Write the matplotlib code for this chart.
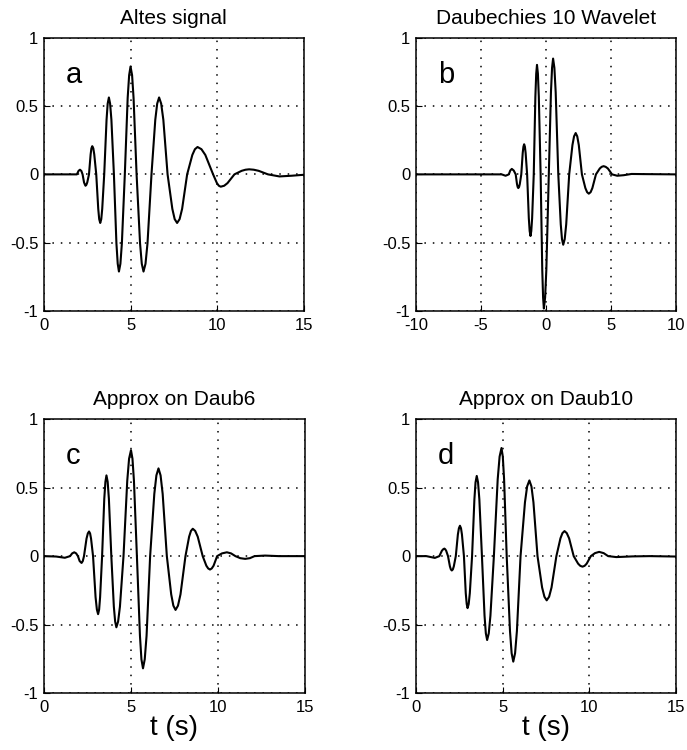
import matplotlib
matplotlib.use("Agg")
import matplotlib.pyplot as plt

plt.rcParams['font.family'] = ['Liberation Sans', 'DejaVu Sans']
plt.rcParams['axes.unicode_minus'] = False

# values (time in s, amplitude)
a_t = [0, 1.6, 1.9, 2.0, 2.08, 2.16, 2.23,
       2.315, 2.37, 2.40, 2.45, 2.50, 2.60,
       2.695, 2.74, 2.79, 2.85, 2.905, 3.02,
       3.135, 3.19, 3.25, 3.31, 3.365, 3.48,
       3.615, 3.68, 3.75, 3.82, 3.895, 4.04,
       4.185, 4.26, 4.33, 4.415, 4.50, 4.67,
       4.835, 4.92, 5.00, 5.09, 5.175, 5.35,
       5.55, 5.65, 5.75, 5.865, 5.98, 6.21,
       6.43, 6.54, 6.65, 6.77, 6.895, 7.14,
       7.415, 7.55, 7.69, 7.835, 7.98, 8.27,
       8.57, 8.72, 8.87, 9.095, 9.32, 9.77,
       9.99, 10.10, 10.21, 10.41, 10.6, 11.0,
       11.42, 11.64, 11.85, 12.12, 12.4, 12.94,
       13.6, 14.3, 15.0]
a_y = [0, 0, 0, 0.026, 0.034, 0.025, 0,
       -0.059, -0.076, -0.083, -0.076, -0.059, 0,
       0.146, 0.19, 0.206, 0.19, 0.146, 0,
       -0.252, -0.327, -0.355, -0.327, -0.252, 0,
       0.399, 0.517, 0.562, 0.517, 0.399, 0,
       -0.504, -0.653, -0.71, -0.653, -0.504, 0,
       0.559, 0.725, 0.788, 0.725, 0.559, 0,
       -0.504, -0.653, -0.71, -0.653, -0.504, 0,
       0.399, 0.517, 0.562, 0.517, 0.399, 0,
       -0.252, -0.327, -0.355, -0.327, -0.252, 0,
       0.142, 0.184, 0.20, 0.184, 0.142, 0,
       -0.064, -0.083, -0.09, -0.083, -0.064, 0,
       0.026, 0.034, 0.037, 0.034, 0.026, 0,
       -0.015, -0.01, -0.003]

b_t = [-10, -3.4, -3.1, -2.85,
       -2.74, -2.62, -2.47, -2.32,
       -2.22, -2.17, -2.12, -2.06, -2.005, -1.89,
       -1.78, -1.725, -1.67, -1.61, -1.555, -1.44,
       -1.31, -1.245, -1.18, -1.12, -1.055, -0.93,
       -0.805, -0.74, -0.68, -0.61, -0.54, -0.40,
       -0.275, -0.21, -0.15, -0.055, 0.04, 0.23,
       0.395, 0.48, 0.56, 0.66, 0.76, 0.96,
       1.15, 1.245, 1.34, 1.455, 1.57, 1.80,
       2.05, 2.175, 2.30, 2.42, 2.54, 2.78,
       3.045, 3.18, 3.31, 3.45, 3.585, 3.86,
       4.155, 4.30, 4.45, 4.61, 4.78, 5.1,
       5.5, 6.0, 6.6, 7.5, 10]
b_y = [0, 0, -0.01, 0,
       0.028, 0.04, 0.028, 0,
       -0.071, -0.092, -0.10, -0.092, -0.071, 0,
       0.156, 0.202, 0.22, 0.202, 0.156, 0,
       -0.32, -0.414, -0.45, -0.414, -0.32, 0,
       0.568, 0.736, 0.80, 0.736, 0.568, 0,
       -0.696, -0.90, -0.98, -0.90, -0.696, 0,
       0.60, 0.778, 0.846, 0.778, 0.60, 0,
       -0.365, -0.473, -0.514, -0.473, -0.365, 0,
       0.214, 0.278, 0.302, 0.278, 0.214, 0,
       -0.10, -0.13, -0.141, -0.13, -0.10, 0,
       0.043, 0.055, 0.06, 0.055, 0.043, 0,
       -0.01, -0.006, 0.003, 0.002, 0]

c_t = [0, 0.7, 1.2, 1.5,
       1.62, 1.74, 1.85, 1.95,
       2.05, 2.16, 2.23, 2.30,
       2.445, 2.52, 2.59, 2.65, 2.705, 2.82,
       2.965, 3.04, 3.11, 3.17, 3.225, 3.34,
       3.465, 3.53, 3.59, 3.66, 3.73, 3.87,
       4.015, 4.09, 4.16, 4.26, 4.365, 4.57,
       4.785, 4.89, 5.0, 5.085, 5.17, 5.34,
       5.515, 5.60, 5.69, 5.79, 5.895, 6.10,
       6.34, 6.46, 6.58, 6.70, 6.82, 7.06,
       7.31, 7.435, 7.56, 7.70, 7.845, 8.13,
       8.34, 8.445, 8.55, 8.69, 8.835, 9.12,
       9.33, 9.435, 9.54, 9.64, 9.745, 9.95,
       10.23, 10.51, 10.75, 11.0,
       11.28, 11.56, 11.83, 12.1,
       12.7, 13.5, 15]
c_y = [0, -0.003, -0.012, 0,
       0.02, 0.028, 0.02, 0,
       -0.036, -0.05, -0.036, 0,
       0.128, 0.166, 0.18, 0.166, 0.128, 0,
       -0.30, -0.39, -0.424, -0.39, -0.30, 0,
       0.419, 0.543, 0.59, 0.543, 0.419, 0,
       -0.369, -0.478, -0.52, -0.478, -0.369, 0,
       0.55, 0.712, 0.774, 0.712, 0.55, 0,
       -0.582, -0.754, -0.82, -0.754, -0.582, 0,
       0.455, 0.59, 0.641, 0.59, 0.455, 0,
       -0.279, -0.362, -0.393, -0.362, -0.279, 0,
       0.142, 0.184, 0.20, 0.184, 0.142, 0,
       -0.07, -0.09, -0.098, -0.09, -0.07, 0,
       0.02, 0.028, 0.02, 0,
       -0.015, -0.02, -0.015, 0,
       0.004, 0, 0]

d_t = [0, 0.6, 1.09, 1.35,
       1.495, 1.57, 1.64, 1.69, 1.745, 1.85,
       1.96, 2.015, 2.07, 2.13, 2.185, 2.30,
       2.42, 2.48, 2.54, 2.60, 2.655, 2.77,
       2.875, 2.93, 2.98, 3.045, 3.11, 3.24,
       3.375, 3.44, 3.51, 3.585, 3.66, 3.81,
       3.96, 4.035, 4.11, 4.205, 4.30, 4.50,
       4.72, 4.83, 4.94, 5.015, 5.09, 5.24,
       5.43, 5.525, 5.62, 5.725, 5.83, 6.04,
       6.295, 6.42, 6.55, 6.67, 6.785, 7.02,
       7.285, 7.42, 7.55, 7.69, 7.83, 8.11,
       8.345, 8.46, 8.58, 8.71, 8.845, 9.11,
       9.365, 9.49, 9.62, 9.74, 9.86, 10.1,
       10.34, 10.58, 10.84, 11.1,
       11.57, 12.5, 13.5, 15]
d_y = [0, 0, -0.013, 0,
       0.039, 0.05, 0.055, 0.05, 0.039, 0,
       -0.075, -0.097, -0.105, -0.097, -0.075, 0,
       0.158, 0.204, 0.222, 0.204, 0.158, 0,
       -0.27, -0.35, -0.38, -0.35, -0.27, 0,
       0.416, 0.539, 0.586, 0.539, 0.416, 0,
       -0.435, -0.564, -0.613, -0.564, -0.435, 0,
       0.561, 0.727, 0.79, 0.727, 0.561, 0,
       -0.547, -0.709, -0.771, -0.709, -0.547, 0,
       0.393, 0.509, 0.553, 0.509, 0.393, 0,
       -0.229, -0.297, -0.323, -0.297, -0.229, 0,
       0.13, 0.168, 0.183, 0.168, 0.13, 0,
       -0.055, -0.071, -0.077, -0.071, -0.055, 0,
       0.022, 0.031, 0.022, 0,
       -0.007, -0.002, 0, -0.003]

titles = ["Altes signal", "Daubechies 10 Wavelet", "Approx on Daub6", "Approx on Daub10"]
letters = ["a", "b", "c", "d"]
t_ticks = [0, 5, 10, 15]
wav_ticks = [-10, -5, 0, 5, 10]
y_ticks = [-1, -0.5, 0, 0.5, 1]
y_labels = ["-1", "-0.5", "0", "0.5", "1"]


def panel(fig, rect, t, y, title, letter, xticks, xlabel=None):
    ax = fig.add_axes(rect)
    ax.plot(t, y, color="black", lw=1.5)
    ax.set_xlim(xticks[0], xticks[-1])
    ax.set_ylim(-1, 1)
    ax.set_xticks(xticks)
    ax.set_xticklabels([str(v) for v in xticks])
    ax.set_yticks(y_ticks)
    ax.set_yticklabels(y_labels)
    ax.tick_params(direction="in", length=4, width=0.8, labelsize=12)
    ax.tick_params(axis="x", pad=5)
    ax.tick_params(axis="y", pad=4)
    ax.grid(True, color="black", linestyle=(0, (1, 4.5)), linewidth=1.1)
    for s in ax.spines.values():
        s.set_linewidth(1.1)
    ax.set_title(title, fontsize=15, pad=10)
    ax.text(0.085, 0.835, letter, transform=ax.transAxes, fontsize=21,
            ha="left", va="baseline")
    if xlabel:
        ax.set_xlabel(xlabel, fontsize=20, labelpad=0)
    return ax


fig = plt.figure(figsize=(6.87, 7.5), dpi=100)
panel(fig, [0.064, 0.585, 0.378, 0.365], a_t, a_y, titles[0], letters[0], t_ticks)
panel(fig, [0.6055, 0.585, 0.378, 0.365], b_t, b_y, titles[1], letters[1], wav_ticks)
panel(fig, [0.064, 0.076, 0.380, 0.365], c_t, c_y, titles[2], letters[2], t_ticks, "t (s)")
panel(fig, [0.6055, 0.076, 0.378, 0.365], d_t, d_y, titles[3], letters[3], t_ticks, "t (s)")

fig.savefig("out.png", dpi=100)
